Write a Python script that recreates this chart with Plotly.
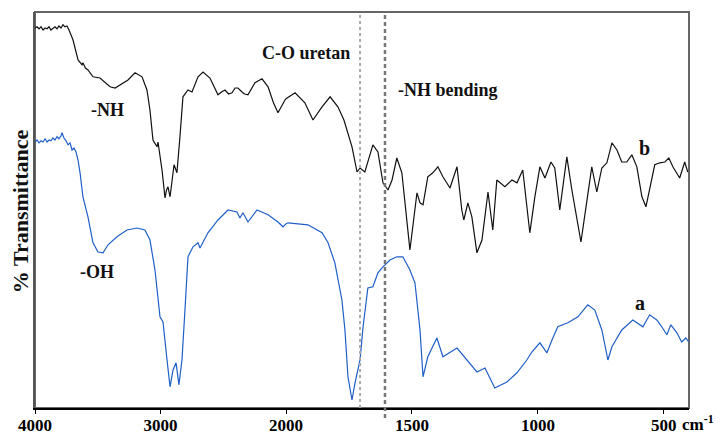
import plotly.graph_objects as go

# ---- curve b (black, upper) : wavenumber (cm-1) and %T (arbitrary offset units)
wn_b = [4000, 3984, 3968, 3952, 3936, 3920, 3904, 3888, 3873, 3857, 3841, 3825, 3809, 3793,
        3777, 3761, 3745, 3729, 3713, 3697, 3657, 3625, 3618, 3598, 3578, 3538, 3482, 3402,
        3362, 3323, 3259, 3203, 3147, 3108, 3084, 3060, 3028, 3020, 2988, 2964, 2952, 2940,
        2924, 2892, 2869, 2845, 2821, 2781, 2749, 2701, 2661, 2606, 2542, 2514, 2486, 2458,
        2430, 2406, 2383, 2350, 2330, 2303, 2247, 2191, 2143, 2100, 2064, 2008, 1964, 1925,
        1893, 1857, 1825, 1794, 1770, 1754, 1738, 1718, 1706, 1687, 1655, 1635, 1615, 1595,
        1579, 1560, 1540, 1508, 1480, 1468, 1456, 1437, 1417, 1397, 1377, 1349, 1321, 1302,
        1294, 1278, 1262, 1242, 1222, 1198, 1179, 1163, 1131, 1103, 1083, 1060, 1032, 1012,
        992, 972, 948, 933, 913, 885, 865, 829, 806, 786, 766, 746, 726, 706, 686, 667, 647,
        627, 607, 587, 571, 556, 536, 516, 496, 480, 464, 437, 417, 405]
t_b = [95.0, 95.3, 94.8, 95.3, 94.5, 95.0, 94.8, 95.3, 94.5, 95.0, 95.3, 94.8, 95.5, 95.0,
       95.8, 95.3, 95.5, 94.5, 93.3, 92.0, 87.0, 85.8, 86.3, 85.0, 84.5, 82.8, 82.5, 80.3,
       80.0, 80.8, 82.0, 83.8, 82.8, 79.5, 74.5, 67.0, 65.3, 66.5, 59.5, 52.5, 54.5, 55.3,
       52.8, 60.8, 58.8, 67.8, 77.8, 79.5, 79.0, 82.8, 84.0, 82.5, 78.3, 79.0, 79.5, 78.5,
       78.8, 80.0, 80.0, 79.0, 78.5, 78.3, 81.3, 82.3, 80.3, 76.3, 73.8, 77.0, 78.8, 76.3,
       72.0, 75.3, 77.8, 75.3, 72.0, 68.8, 65.3, 59.0, 60.0, 59.0, 65.8, 64.0, 56.3, 54.5,
       57.0, 62.5, 58.8, 39.5, 53.8, 51.3, 50.8, 57.8, 58.8, 60.3, 57.8, 55.0, 60.3, 49.5,
       47.0, 51.3, 47.8, 38.8, 42.0, 54.0, 44.5, 57.0, 55.3, 57.0, 56.3, 59.5, 43.8, 52.8,
       60.3, 57.5, 61.5, 60.0, 49.5, 62.8, 54.5, 41.5, 52.0, 60.3, 54.0, 60.0, 61.3, 66.3,
       64.5, 61.5, 61.5, 63.3, 60.3, 52.8, 50.3, 54.5, 60.8, 61.3, 61.5, 62.5, 60.3, 57.5,
       61.5, 59.0]

# ---- curve a (blue, lower)
wn_a = [4000, 3984, 3968, 3952, 3936, 3920, 3904, 3888, 3873, 3857, 3841, 3825, 3809, 3793,
        3785, 3769, 3753, 3737, 3721, 3705, 3689, 3673, 3657, 3641, 3618, 3578, 3538, 3498,
        3458, 3418, 3347, 3267, 3187, 3124, 3084, 3044, 3004, 2980, 2948, 2924, 2900, 2876,
        2853, 2829, 2805, 2781, 2741, 2701, 2685, 2622, 2542, 2462, 2391, 2367, 2343, 2303,
        2231, 2143, 2064, 2024, 1992, 1913, 1857, 1833, 1806, 1778, 1766, 1754, 1738, 1726,
        1706, 1694, 1675, 1655, 1635, 1615, 1587, 1560, 1536, 1508, 1488, 1468, 1456, 1437,
        1401, 1377, 1321, 1282, 1242, 1210, 1171, 1123, 1083, 1044, 1024, 992, 964, 944, 921,
        881, 841, 802, 774, 746, 722, 706, 667, 623, 583, 556, 528, 508, 488, 472, 448, 429,
        413, 401]
t_a = [66.5, 67.0, 66.3, 66.8, 66.5, 67.3, 66.5, 67.0, 66.8, 67.5, 67.0, 67.8, 67.3, 68.0,
       68.8, 67.5, 66.8, 65.8, 66.3, 64.5, 65.0, 64.0, 62.0, 58.8, 52.8, 47.8, 41.3, 39.0,
       38.8, 40.8, 42.8, 44.5, 45.0, 44.5, 42.0, 34.5, 22.8, 21.5, 12.0, 5.3, 9.5, 11.3,
       5.8, 12.0, 24.5, 37.8, 40.3, 41.3, 40.0, 43.8, 47.0, 49.5, 49.0, 47.5, 48.8, 46.5,
       49.5, 48.3, 46.5, 45.3, 46.3, 45.8, 43.8, 41.3, 36.3, 27.0, 19.5, 7.8, 2.0, 6.3,
       12.0, 20.3, 30.0, 30.3, 33.8, 35.3, 37.0, 37.8, 37.8, 34.5, 31.3, 19.5, 7.8, 12.8,
       17.5, 12.8, 15.0, 12.0, 9.0, 10.0, 5.0, 6.5, 8.8, 12.0, 14.0, 16.3, 13.8, 17.0, 20.3,
       21.3, 22.8, 25.8, 24.5, 19.5, 12.0, 15.3, 19.5, 22.0, 20.3, 23.3, 22.0, 20.3, 18.3,
       20.8, 18.8, 16.5, 17.5, 16.5]

# ---- axis ticks (split scale, expanded below 2000 cm-1)
ticks_high = [4000, 3000]
ticks_low = [2000, 1500, 1000, 500]
marker_lines = [1706, 1607]   # C-O uretan, -NH bending

FONT = "Liberation Serif"
fig = go.Figure()
for ax in ["x", "x2"]:
    fig.add_trace(go.Scatter(x=wn_b, y=t_b, mode="lines", xaxis=ax, yaxis="y",
                             line=dict(color="#111111", width=1.2), showlegend=False,
                             hoverinfo="skip"))
    fig.add_trace(go.Scatter(x=wn_a, y=t_a, mode="lines", xaxis=ax, yaxis="y",
                             line=dict(color="#1f5fc8", width=1.2), showlegend=False,
                             hoverinfo="skip"))

split = 251 / 654
tickfont = dict(family=FONT, size=17, color="black", weight="bold")
common_x = dict(showgrid=False, zeroline=False, showline=True, linecolor="black",
                linewidth=1.5, ticks="outside", ticklen=4, tickcolor="black",
                tickfont=tickfont, anchor="y", automargin=False, ticklabelstandoff=-3)
fig.update_layout(
    width=723, height=437,
    margin=dict(l=35, r=34, t=12, b=29, autoexpand=False),
    paper_bgcolor="white", plot_bgcolor="white",
    xaxis=dict(domain=[0, split], range=[4000, 2000], tickvals=ticks_high, **common_x),
    xaxis2=dict(domain=[split, 1], range=[2000, 400], tickvals=ticks_low, **common_x),
    yaxis=dict(range=[0, 99], showticklabels=False, ticks="", showgrid=False,
               zeroline=False, showline=True, linecolor="#555555", linewidth=2,
               anchor="x", automargin=False),
)

shapes = [
    dict(type="rect", xref="paper", yref="paper", x0=0, x1=1, y0=0, y1=1,
         line=dict(color="#666666", width=2), layer="below"),
    dict(type="line", xref="x2", yref="paper", x0=marker_lines[0], x1=marker_lines[0],
         y0=0, y1=1, line=dict(color="#aaaaaa", width=2, dash="3px,3px")),
    dict(type="line", xref="x2", yref="paper", x0=marker_lines[1], x1=marker_lines[1],
         y0=-0.025, y1=1, line=dict(color="#777777", width=2.5, dash="4px,3px")),
]
fig.update_layout(shapes=shapes)

labels = [
    ("-NH", 0.1116, 0.7525, 18),
    ("C-O uretan", 0.4144, 0.8965, 18),
    ("-NH bending", 0.6315, 0.803, 18),
    ("b", 0.9327, 0.6566, 20),
    ("a", 0.925, 0.265, 20),
    ("-OH", 0.0948, 0.3434, 18),
]
for txt, x, y, s in labels:
    fig.add_annotation(text=txt, x=x, y=y, xref="paper", yref="paper", showarrow=False,
                       xanchor="center", yanchor="middle",
                       font=dict(family=FONT, size=s, color="#111111", weight="bold"))

fig.add_annotation(text="cm<sup>-1</sup>", x=0.9865, y=-0.038, xref="paper", yref="paper",
                   showarrow=False, xanchor="left", yanchor="middle", font=tickfont)
fig.add_annotation(text="% Transmittance", x=-0.0229, y=0.497, xref="paper", yref="paper",
                   showarrow=False, textangle=-90, xanchor="center", yanchor="middle",
                   font=dict(family=FONT, size=22, color="#111111", weight="bold"))

fig.write_html("out.html")
